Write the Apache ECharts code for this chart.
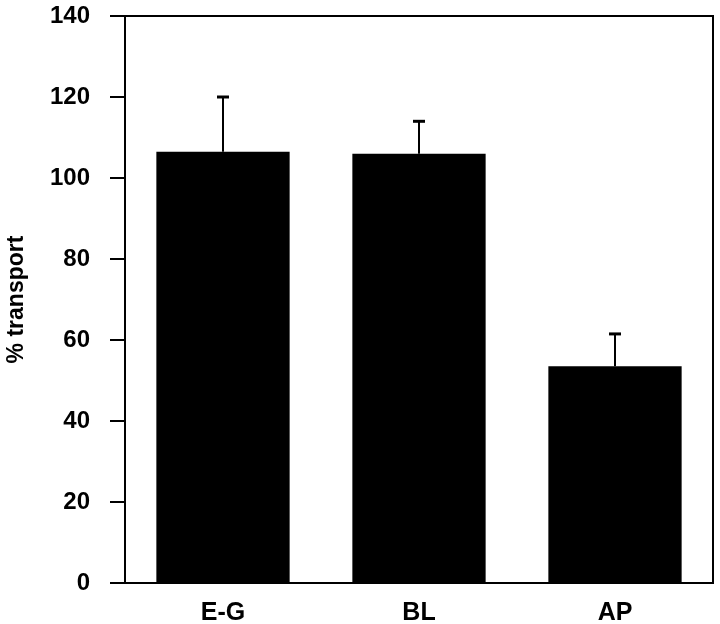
<!DOCTYPE html>
<html>
<head>
<meta charset="utf-8">
<script src="https://cdn.jsdelivr.net/npm/echarts@6/dist/echarts.min.js"></script>
<style>
  html, body { margin: 0; padding: 0; background: #fff; }
  #main { width: 720px; height: 624px; }
</style>
</head>
<body>
<div id="main"></div>
<script>
const categories = ['E-G', 'BL', 'AP'];
const means = [106.5, 106, 53.5];
const errUpper = [120, 114, 61.5];
const yTicks = [0, 20, 40, 60, 80, 100, 120, 140];

const font = 'Liberation Sans, Arial, sans-serif';
const myChart = echarts.init(document.getElementById('main'));

const option = {
  animation: false,
  grid: {
    left: 125, right: 7, top: 16, bottom: 41,
    containLabel: false,
    outerBoundsMode: 'none',
    show: true, borderColor: '#000', borderWidth: 2
  },
  xAxis: {
    type: 'category',
    data: categories,
    axisLine: { lineStyle: { color: '#000', width: 2 } },
    axisTick: { show: false },
    axisLabel: { color: '#000', fontFamily: font, fontWeight: 'bold', fontSize: 25, margin: 18 }
  },
  yAxis: {
    type: 'value',
    min: yTicks[0],
    max: yTicks[yTicks.length - 1],
    interval: 20,
    name: '% transport',
    nameLocation: 'middle',
    nameGap: 97,
    nameTextStyle: { color: '#000', fontFamily: font, fontWeight: 'bold', fontSize: 23 },
    axisLine: { show: true, lineStyle: { color: '#000', width: 2 } },
    axisTick: { show: true, inside: false, length: 15, lineStyle: { color: '#000', width: 2 } },
    axisLabel: { color: '#000', fontFamily: font, fontWeight: 'bold', fontSize: 24, margin: 35 },
    splitLine: { show: false }
  },
  series: [
    {
      type: 'bar',
      data: means,
      barWidth: '68%',
      itemStyle: { color: '#000' },
      z: 2
    },
    {
      type: 'custom',
      z: 3,
      data: categories.map((c, i) => [i, means[i], errUpper[i]]),
      renderItem: function (params, api) {
        const base = api.coord([api.value(0), api.value(1)]);
        const top = api.coord([api.value(0), api.value(2)]);
        const hw = 6;
        return {
          type: 'group',
          children: [
            { type: 'line', shape: { x1: base[0], y1: base[1], x2: top[0], y2: top[1] },
              style: { stroke: '#000', lineWidth: 2 } },
            { type: 'line', shape: { x1: top[0] - hw, y1: top[1], x2: top[0] + hw, y2: top[1] },
              style: { stroke: '#000', lineWidth: 3 } }
          ]
        };
      }
    }
  ]
};

myChart.setOption(option);
</script>
</body>
</html>
